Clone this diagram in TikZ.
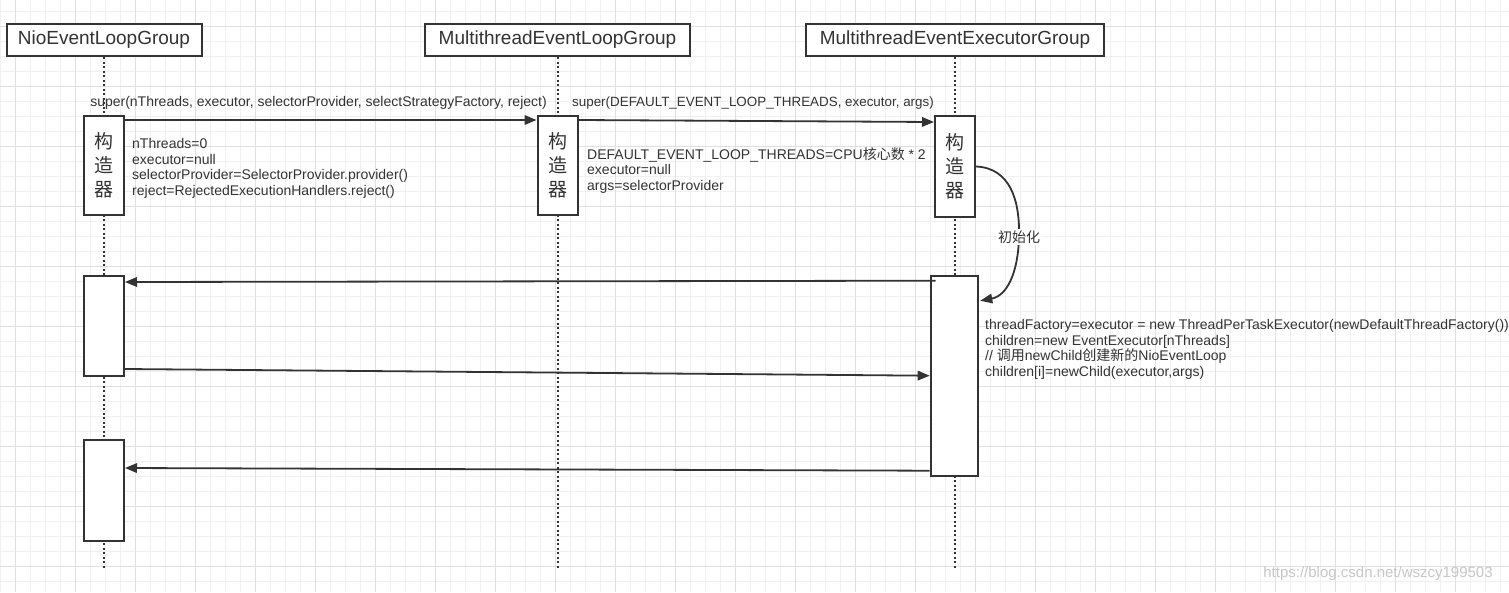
\documentclass[tikz,border=0pt]{standalone}
\usepackage{fontspec}
\setmainfont{Liberation Sans}
\newfontfamily\cjk{Noto Sans CJK SC}
\usetikzlibrary{arrows.meta}

\definecolor{ink}{HTML}{333333}
\tikzset{
  head/.style={draw=ink, line width=2pt, fill=white, minimum height=32pt, inner sep=0pt, text=ink, font=\fontsize{19}{22}\selectfont},
  act/.style={draw=ink, line width=2pt, fill=white, minimum width=40pt, inner sep=0pt, text=ink, align=center, font=\fontsize{19}{24}\selectfont\cjk},
  life/.style={draw=ink, line width=2pt, dash pattern=on 2pt off 2.5pt},
  msg/.style={draw=ink, line width=1.8pt, -{Triangle[length=12pt,width=9.5pt]}},
  lbl/.style={text=ink, inner sep=0pt, font=\fontsize{14}{15.8}\selectfont},
  note/.style={lbl, align=left, anchor=north west},
  gridminor/.style={draw=black!6, line width=0.8pt},
  gridmajor/.style={draw=black!12, line width=0.8pt}
}

\begin{document}
\begin{tikzpicture}[x=1pt,y=-1pt]
\fill[white] (0,0) rectangle (1509,592);
\useasboundingbox (0,0) rectangle (1509,592);
\foreach \x in {0.3,15.3,...,1509} \draw[gridminor] (\x,0) -- (\x,592);
\foreach \y in {11,26,...,592} \draw[gridminor] (0,\y) -- (1509,\y);
\foreach \x in {15.3,75.3,...,1509} \draw[gridmajor] (\x,0) -- (\x,592);
\foreach \y in {26,86,...,592} \draw[gridmajor] (0,\y) -- (1509,\y);

\node[head, minimum width=195pt] (nio) at (104,40) {NioEventLoopGroup};
\node[head, minimum width=265pt] (mlg) at (557.5,40) {MultithreadEventLoopGroup};
\node[head, minimum width=298pt] (meg) at (955,40) {MultithreadEventExecutorGroup};
\coordinate (nioend) at (104,568);
\coordinate (mlgend) at (557.5,568);
\coordinate (megend) at (955,568);
\draw[life] (nio.south) -- (nioend);
\draw[life] (mlg.south) -- (mlgend);
\draw[life] (meg.south) -- (megend);

\node[act, minimum height=99pt] (a1) at (104,165.5) {构\\造\\器};
\node[act, minimum height=99pt] (a2) at (557.5,165.5) {构\\造\\器};
\node[act, minimum height=101pt] (a3) at (955,166.5) {构\\造\\器};
\node[act, minimum height=100pt] (b1) at (104,326) {};
\node[act, minimum height=200pt, minimum width=47.6pt] (b3) at (954.5,375.7) {};
\node[act, minimum height=101pt] (b1b) at (104,490.5) {};

\draw[msg] ([yshift=-5pt]a1.north east) -- ([yshift=-5pt]a2.north west);
\node[lbl] (call1) at (318.5,103) {super(nThreads, executor, selectorProvider, selectStrategyFactory, reject)};
\draw[msg] ([yshift=-5pt]a2.north east) -- ([yshift=-7pt]a3.north west);
\node[lbl, font=\fontsize{13.4}{15.8}\selectfont] (call2) at (753,103) {super(DEFAULT\_EVENT\_LOOP\_THREADS, executor, args)};

\node[note] (args1) at (132,138) {nThreads=0\\executor=null\\selectorProvider=SelectorProvider.provider()\\reject=RejectedExecutionHandlers.reject()};
\node[note] (args2) at (587,147) {DEFAULT\_EVENT\_LOOP\_THREADS=CPU{\cjk 核心数} * 2\\executor=null\\args=selectorProvider};

\draw[msg] (a3.east) .. controls (1010,168) and (1020,200) .. (1019,237)
  node[lbl, fill=white, inner sep=2pt] (init) {\cjk 初始化}
  .. controls (1018,275) and (1006,296) .. ([xshift=1pt,yshift=-26pt]b3.north east);

\draw[msg] ([xshift=6pt,yshift=-6pt]b3.north west) -- ([yshift=-7pt]b1.north east);
\draw[msg] ([yshift=8pt]b1.south east) -- (b3.west);
\draw[msg] ([yshift=6pt]b3.south west) -- ([yshift=-29pt]b1b.north east);

\node[note] (body) at (985,319) {threadFactory=executor = new ThreadPerTaskExecutor(newDefaultThreadFactory())\\children=new EventExecutor[nThreads]\\// {\cjk 调用}newChild{\cjk 创建新的}NioEventLoop\\children[i]=newChild(executor,args)};

\node[text=black!22, inner sep=0pt, font=\fontsize{15}{18}\selectfont] (mark) at (1378,574) {https://blog.csdn.net/wszcy199503};
\end{tikzpicture}
\end{document}
